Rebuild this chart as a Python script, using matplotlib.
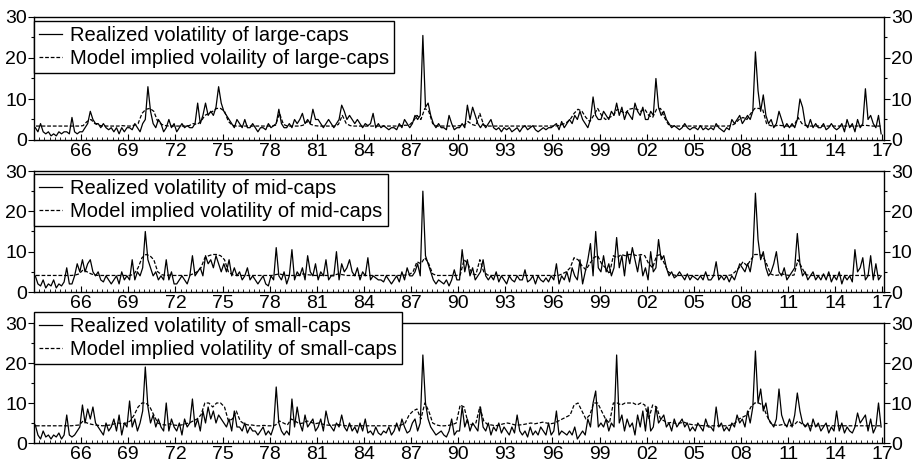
import matplotlib
matplotlib.use('Agg')
import matplotlib.pyplot as plt
import numpy as np
from matplotlib.ticker import FixedLocator, MultipleLocator

plt.rcParams['font.family'] = ['Liberation Sans', 'DejaVu Sans']

### Data
# Realized volatility, six readings per year, 1963 .. 2016
rv_large = [
    3, 2, 4, 2, 1.5, 2,        # 1963
    1, 1.5, 1, 2, 1.5, 2,      # 1964
    2, 1.5, 5.5, 2, 1.5, 2,    # 1965
    2, 3, 4, 7, 5, 4,          # 1966
    4, 3, 4, 3, 2.5, 3,        # 1967
    2, 3, 1.5, 3, 2, 3,        # 1968
    3, 2.5, 4, 3, 2, 4,        # 1969
    5, 13, 7, 4, 3, 5,         # 1970
    4, 2, 3, 5, 3, 4,          # 1971
    2, 3, 4, 3, 3.5, 3,        # 1972
    3, 4, 9, 4, 6, 9,          # 1973
    6, 7, 6, 8, 13, 9,         # 1974
    7, 6, 5, 4, 3, 5,          # 1975
    4, 3, 5, 3, 3, 4,          # 1976
    3, 2, 3, 3, 2.5, 4,        # 1977
    3, 3.5, 4, 7.5, 4, 3,      # 1978
    3, 4, 3, 5, 4, 5,          # 1979
    6.5, 4, 5, 4, 7.5, 5,      # 1980
    5, 4, 3, 4, 5, 4,          # 1981
    3, 4, 5, 8.5, 7, 5,        # 1982
    6, 5, 4, 5, 4, 3,          # 1983
    4, 3.5, 4, 6.5, 3, 4,      # 1984
    3, 3.5, 3, 2.5, 3, 3,      # 1985
    2.5, 4, 3, 5, 4, 3,        # 1986
    4, 6, 5, 6, 25.5, 8,       # 1987
    9, 6, 4, 3, 4, 3,          # 1988
    3, 2.5, 6, 4, 2.5, 3,      # 1989
    3, 4, 3, 8.5, 5, 8,        # 1990
    6, 4, 3, 4, 3, 4,          # 1991
    5, 3, 2.5, 3, 2, 3,        # 1992
    2.5, 3, 2, 2.5, 3, 2,      # 1993
    3, 3.5, 2.5, 3, 3.5, 2.5,  # 1994
    2, 2.5, 3, 2.5, 3, 3,      # 1995
    3.5, 4, 2.5, 4.5, 3, 4,    # 1996
    5, 4, 6, 5, 7, 5,          # 1997
    4, 3, 5, 10.5, 6, 5,       # 1998
    5, 7, 6, 5, 7, 6,          # 1999
    9, 6, 8, 5, 7, 6,          # 2000
    5, 9, 7, 6, 8, 5,          # 2001
    5, 7, 6, 15, 8, 6,         # 2002
    7, 5, 4, 3, 3.5, 3,        # 2003
    2.5, 3, 4, 3, 2.5, 3,      # 2004
    3, 2.5, 3.5, 2.5, 3, 2.5,  # 2005
    3, 2.5, 4, 3, 2.5, 2,      # 2006
    3, 2.5, 5, 4, 5, 6,        # 2007
    4, 5, 6, 5, 7, 21.5,       # 2008
    12, 7, 11, 6, 4, 5,        # 2009
    3, 4, 7, 5, 3, 4,          # 2010
    3, 4, 3, 5, 10, 8,         # 2011
    4, 3, 5, 3, 4, 3,          # 2012
    3, 4, 2.5, 3, 4, 3,        # 2013
    2.5, 3, 4, 2, 5, 3,        # 2014
    4, 2, 5, 3, 4, 12.5,       # 2015
    5, 6, 4, 3, 6, 1.5,        # 2016
]
rv_mid = [
    4, 2, 1.5, 3, 1, 2,        # 1963
    1.5, 3, 1, 2, 1.5, 2.5,    # 1964
    6, 2, 2, 4, 7, 5,          # 1965
    8, 5, 7, 8, 5, 4,          # 1966
    5, 3, 2.5, 4, 3, 2,        # 1967
    3, 4, 2, 5, 3, 4,          # 1968
    3, 8, 3, 5, 4, 6,          # 1969
    15, 8, 6, 4, 5, 3,         # 1970
    4, 3, 8, 3, 5, 2,          # 1971
    2, 3, 4, 3, 2, 4,          # 1972
    9, 4, 5, 6, 4, 9,          # 1973
    7, 8, 6, 9, 7, 5,          # 1974
    7, 5, 8, 4, 6, 4,          # 1975
    5, 3, 4, 6, 3, 4,          # 1976
    3, 2, 3, 4, 2, 1.5,        # 1977
    4, 3, 11, 4, 3, 5,         # 1978
    2, 4, 10.5, 3, 5, 4,       # 1979
    6, 3, 9, 5, 4, 7,          # 1980
    3, 5, 4, 8, 3, 4,          # 1981
    4, 10, 3, 7, 5, 6,         # 1982
    8, 5, 4, 6, 3, 5,          # 1983
    4, 8.5, 3, 4, 3.5, 3,      # 1984
    3, 2.5, 4, 3, 2, 3,        # 1985
    4, 2.5, 5, 3, 6, 4,        # 1986
    4, 5, 7, 4, 25, 9,         # 1987
    7, 5, 3, 2, 3, 2.5,        # 1988
    2, 3, 1.5, 3, 5.5, 3,      # 1989
    3, 10.5, 5, 8, 4, 6,       # 1990
    3, 4, 5, 8, 4, 3,          # 1991
    4, 3, 5, 2.5, 4, 3,        # 1992
    2, 4, 3, 2.5, 4, 3,        # 1993
    3, 5.5, 2.5, 3, 4, 2,      # 1994
    4, 3, 2.5, 3.5, 2.5, 4,    # 1995
    3, 7, 2, 4, 3, 5,          # 1996
    2.5, 6, 4, 3, 8, 2,        # 1997
    5, 8, 12, 4, 15, 6,        # 1998
    5, 9, 5, 7, 4, 6,          # 1999
    13.5, 6, 9, 4, 10, 7,      # 2000
    11, 8, 5, 9, 4, 6,         # 2001
    3, 10, 5, 6, 13, 8,        # 2002
    9, 6, 4, 5, 3.5, 4,        # 2003
    5, 4, 3, 4.5, 3, 4,        # 2004
    3.5, 3, 4, 3, 5, 3,        # 2005
    3, 4, 7.5, 3, 4, 3,        # 2006
    4, 2.5, 4, 3, 5, 7,        # 2007
    6, 5, 7, 5, 9, 24.5,       # 2008
    13, 8, 10, 6, 4, 5,        # 2009
    7, 10, 5, 4, 6, 3,         # 2010
    4, 5, 6, 14.5, 7, 4,       # 2011
    5, 3, 4, 5, 3, 4,          # 2012
    3, 4.5, 3, 5, 2.5, 4,      # 2013
    3, 5, 2, 4, 3, 4,          # 2014
    2.5, 10.5, 5, 6, 8.5, 3,   # 2015
    4, 9, 3, 7, 3, 4,          # 2016
]
rv_small = [
    4.5, 2, 1, 3, 1.5, 2,      # 1963
    1, 2, 1.5, 2.5, 1, 2,      # 1964
    7, 2, 1.5, 2, 3, 4,        # 1965
    9.5, 5, 8.5, 6, 9, 5,      # 1966
    4, 3, 2, 5, 3, 4,          # 1967
    6, 3, 7, 2, 5, 4,          # 1968
    10.5, 4, 6, 3, 5, 8,       # 1969
    19, 9, 5, 7, 4, 6,         # 1970
    4, 3, 10, 3, 6, 4,         # 1971
    3, 5, 2, 6, 4, 5,          # 1972
    11, 4, 6, 3, 8, 5,         # 1973
    9, 6, 8, 5, 7, 6,          # 1974
    5, 4, 6, 3, 8, 4,          # 1975
    4, 3, 5, 2.5, 4, 3,        # 1976
    3, 2, 3, 4, 2, 3,          # 1977
    2, 4, 14, 5, 3, 2,         # 1978
    3, 2, 11, 4, 9, 5,         # 1979
    3, 7, 4, 5, 6, 3,          # 1980
    4, 6, 3, 8, 5, 4,          # 1981
    3, 5, 4, 7, 4, 3,          # 1982
    5, 3, 4, 2.5, 5, 3,        # 1983
    6, 2.5, 3, 2, 4, 2.5,      # 1984
    2, 3, 2.5, 4, 2, 3,        # 1985
    5, 3, 6, 4, 2.5, 3,        # 1986
    5, 6, 3, 5, 22, 10,        # 1987
    6, 4, 3, 2, 2.5, 3,        # 1988
    2, 1.5, 3, 6, 2, 3,        # 1989
    3, 9, 4, 6, 3, 5,          # 1990
    4, 3, 9, 4, 3, 5,          # 1991
    2, 4, 3, 5, 2.5, 4,        # 1992
    3, 2, 4, 2.5, 7, 3,        # 1993
    2, 3, 1.5, 4, 2, 3,        # 1994
    2, 4, 3, 2, 5, 2,          # 1995
    3, 8, 2, 3, 2.5, 2,        # 1996
    3, 2, 4, 1, 2, 3,          # 1997
    2, 6, 4, 10, 13, 4,        # 1998
    5, 4, 6, 3, 5, 4,          # 1999
    22, 5, 7, 3, 6, 4,         # 2000
    5, 2, 7, 4, 8, 3,          # 2001
    9, 3, 4, 9, 5, 6,          # 2002
    7, 4, 5, 3, 6, 4,          # 2003
    5, 6, 4, 5, 3, 4,          # 2004
    3, 5, 4, 3, 6, 4,          # 2005
    4, 3, 9, 4, 5, 3,          # 2006
    4, 3, 5, 4, 7, 5,          # 2007
    6, 4, 8, 5, 9, 23,         # 2008
    10, 13.5, 8, 10, 6, 5,     # 2009
    4, 6, 13.5, 7, 5, 4,       # 2010
    6, 4, 7, 12.5, 8, 5,       # 2011
    4, 5, 3, 6, 4, 5,          # 2012
    3, 4, 5, 2.5, 4, 3,        # 2013
    8, 3, 5, 2.5, 4, 3,        # 2014
    2.5, 4, 7.5, 5, 6, 7,      # 2015
    3, 6, 2.5, 4, 10, 4,       # 2016
]

# Model implied volatility, four readings per year, 1963 .. 2016
mv_large = [
    3.4, 3.4, 3.4, 3.4,  3.4, 3.4, 3.4, 3.4,  3.4, 3.4, 3.4, 3.4,   # 63-65
    3.5, 4.5, 5.0, 4.0,  3.6, 3.4, 3.4, 3.4,  3.4, 3.4, 3.5, 3.4,   # 66-68
    3.4, 3.6, 4.0, 6.5,  7.5, 7.7, 7.0, 4.5,  3.8, 3.5, 3.4, 3.4,   # 69-71
    3.4, 3.4, 3.4, 3.5,  4.0, 3.8, 4.5, 6.0,  6.5, 7.0, 7.7, 7.7,   # 72-74
    7.0, 4.5, 3.6, 3.4,  3.4, 3.4, 3.4, 3.4,  3.4, 3.4, 3.4, 3.4,   # 75-77
    3.4, 3.6, 6.5, 3.8,  3.4, 3.4, 3.4, 3.4,  3.6, 4.5, 3.8, 3.5,   # 78-80
    3.4, 3.4, 3.4, 3.4,  3.4, 3.8, 6.0, 4.0,  3.5, 3.4, 3.4, 3.4,   # 81-83
    3.4, 3.4, 3.4, 3.4,  3.4, 3.4, 3.4, 3.4,  3.4, 3.5, 3.6, 3.6,   # 84-86
    4.5, 6.0, 5.0, 7.7,  7.0, 4.0, 3.4, 3.4,  3.4, 3.4, 3.4, 3.4,   # 87-89
    3.5, 3.6, 4.5, 3.8,  3.5, 6.5, 3.6, 3.4,  3.4, 3.4, 3.4, 3.4,   # 90-92
    3.4, 3.4, 3.4, 3.4,  3.4, 3.4, 3.4, 3.4,  3.4, 3.4, 3.4, 3.4,   # 93-95
    3.4, 3.5, 3.8, 4.2,  5.0, 6.5, 7.5, 7.0,  5.5, 4.5, 6.0, 7.7,   # 96-98
    6.0, 5.0, 5.5, 6.0,  7.5, 7.0, 6.5, 7.5,  7.7, 7.5, 7.0, 7.5,   # 99-01
    6.0, 5.5, 7.5, 7.7,  5.5, 3.8, 3.4, 3.4,  3.4, 3.4, 3.4, 3.4,   # 02-04
    3.4, 3.4, 3.4, 3.4,  3.4, 3.4, 3.4, 3.4,  3.4, 3.5, 4.0, 5.0,   # 05-07
    5.5, 5.0, 6.5, 7.7,  7.7, 7.5, 4.0, 3.5,  3.4, 3.6, 3.5, 3.4,   # 08-10
    3.4, 3.5, 5.5, 4.0,  3.5, 3.4, 3.4, 3.4,  3.4, 3.4, 3.4, 3.4,   # 11-13
    3.4, 3.4, 3.4, 3.4,  3.4, 3.4, 3.5, 3.6,  3.5, 3.4, 3.4, 3.4,   # 14-16
]
mv_mid = [
    4.1, 4.1, 4.1, 4.1,  4.1, 4.1, 4.1, 4.1,  4.1, 4.1, 4.2, 4.5,   # 63-65
    5.5, 5.0, 4.5, 4.2,  4.1, 4.1, 4.1, 4.1,  4.1, 4.1, 4.1, 4.1,   # 66-68
    4.1, 4.5, 6.0, 8.5,  9.3, 9.0, 8.0, 5.0,  4.3, 4.1, 4.2, 4.1,   # 69-71
    4.1, 4.1, 4.1, 4.1,  4.5, 5.0, 6.0, 8.5,  9.0, 9.3, 9.3, 9.0,   # 72-74
    8.0, 5.0, 4.3, 4.1,  4.1, 4.1, 4.1, 4.1,  4.1, 4.1, 4.1, 4.1,   # 75-77
    4.1, 4.3, 4.5, 4.2,  4.1, 4.1, 4.1, 4.1,  4.5, 4.3, 4.2, 4.1,   # 78-80
    4.1, 4.1, 4.1, 4.1,  4.2, 4.5, 4.3, 4.1,  4.1, 4.1, 4.1, 4.1,   # 81-83
    4.1, 4.1, 4.1, 4.1,  4.1, 4.1, 4.1, 4.1,  4.1, 4.1, 4.2, 4.3,   # 84-86
    5.0, 7.5, 7.0, 8.5,  7.0, 4.5, 4.1, 4.1,  4.1, 4.1, 4.1, 4.1,   # 87-89
    4.2, 8.0, 7.0, 4.5,  4.3, 8.0, 5.0, 4.2,  4.1, 4.1, 4.1, 4.1,   # 90-92
    4.1, 4.1, 4.1, 4.1,  4.1, 4.1, 4.1, 4.1,  4.1, 4.1, 4.1, 4.1,   # 93-95
    4.1, 4.1, 4.5, 5.0,  6.0, 8.5, 8.0, 6.5,  5.5, 7.0, 8.5, 9.0,   # 96-98
    7.0, 6.0, 4.5, 9.0,  8.5, 9.3, 9.0, 9.3,  9.3, 9.0, 9.3, 9.0,   # 99-01
    7.0, 6.0, 9.0, 9.3,  7.0, 5.0, 4.3, 4.1,  4.1, 4.1, 4.1, 4.1,   # 02-04
    4.1, 4.1, 4.1, 4.1,  4.1, 4.1, 4.1, 4.1,  4.1, 4.2, 5.0, 6.0,   # 05-07
    7.5, 6.5, 8.0, 9.3,  9.3, 9.0, 7.0, 4.5,  4.1, 4.2, 4.5, 4.2,   # 08-10
    4.1, 4.2, 8.0, 6.0,  4.3, 4.1, 4.1, 4.1,  4.1, 4.1, 4.1, 4.1,   # 11-13
    4.1, 4.1, 4.1, 4.1,  4.1, 4.1, 4.1, 4.1,  4.1, 4.1, 4.1, 4.1,   # 14-16
]
mv_small = [
    4.3, 4.3, 4.3, 4.3,  4.3, 4.3, 4.3, 4.3,  4.3, 4.3, 4.4, 4.5,   # 63-65
    5.5, 5.0, 4.7, 4.5,  4.4, 4.3, 4.4, 4.5,  4.8, 5.0, 4.8, 5.0,   # 66-68
    5.5, 7.0, 9.0, 10.0, 10.0, 9.0, 7.0, 5.0, 4.6, 4.5, 4.8, 4.5,   # 69-71
    4.4, 4.5, 4.8, 5.0,  5.5, 6.0, 7.0, 10.0, 10.0, 9.0, 10.0, 10.0, # 72-74
    9.0, 5.5, 6.0, 8.0,  5.5, 4.8, 4.5, 4.5,  4.3, 4.3, 4.4, 4.3,   # 75-77
    4.3, 4.5, 5.5, 5.0,  4.5, 6.0, 5.5, 4.8,  5.0, 5.5, 5.2, 4.8,   # 78-80
    5.0, 4.7, 4.5, 4.4,  4.5, 4.6, 4.4, 4.3,  4.3, 4.3, 4.3, 4.3,   # 81-83
    4.3, 4.3, 4.3, 4.3,  4.3, 4.3, 4.3, 4.3,  4.3, 4.5, 5.0, 7.0,   # 84-86
    8.0, 8.5, 6.0, 10.0, 8.0, 5.0, 4.5, 4.3,  4.3, 4.4, 4.6, 5.0,   # 87-89
    9.5, 9.0, 5.0, 4.5,  5.0, 9.0, 5.5, 4.6,  4.5, 4.3, 4.5, 4.8,   # 90-92
    5.0, 4.8, 4.5, 4.5,  4.6, 4.8, 5.0, 4.8,  5.0, 5.2, 5.0, 4.8,   # 93-95
    5.0, 5.5, 6.0, 6.5,  7.0, 9.5, 10.0, 8.0, 6.0, 7.0, 10.0, 10.0, # 96-98
    8.0, 6.0, 5.0, 10.0, 10.0, 9.5, 10.0, 10.0, 10.0, 9.5, 10.0, 9.5, # 99-01
    6.0, 9.5, 9.0, 6.0,  5.5, 5.0, 5.2, 4.8,  5.0, 5.2, 4.8, 4.6,   # 02-04
    4.5, 4.4, 4.3, 4.3,  4.3, 4.3, 4.3, 4.3,  4.3, 4.5, 5.0, 6.0,   # 05-07
    6.5, 7.0, 9.0, 10.0, 10.0, 9.5, 7.0, 5.0, 4.5, 4.4, 4.6, 4.4,   # 08-10
    4.3, 4.5, 5.5, 4.8,  4.3, 4.3, 4.3, 4.3,  4.3, 4.3, 4.3, 4.3,   # 11-13
    4.3, 4.3, 4.3, 4.3,  4.3, 4.3, 4.3, 4.3,  4.3, 4.3, 4.3, 4.3,   # 14-16
]

labels_rv = ['Realized volatility of large-caps',
             'Realized volatility of mid-caps',
             'Realized volatility of small-caps']
labels_mv = ['Model implied volaility of large-caps',
             'Model implied volatility of mid-caps',
             'Model implied volatility of small-caps']
year_ticks = list(range(1966, 2018, 3))
year_labels = ['%02d' % (y % 100) for y in year_ticks]

### Layout (pixel boxes of the three panels, and where each legend top sits)
W, H = 916, 469
boxes = [(17, 140), (171, 292), (323, 443)]
legend_tops = [21, 174, 312]
x_left, x_right = 34, 884

fig = plt.figure(figsize=(W / 100, H / 100), dpi=100)

series = [(rv_large, mv_large), (rv_mid, mv_mid), (rv_small, mv_small)]
for i, ((rv, mv), (top, bot)) in enumerate(zip(series, boxes)):
    ax = fig.add_axes([x_left / W, 1 - bot / H, (x_right - x_left) / W, (bot - top) / H])
    x_rv = 1963 + (np.arange(len(rv)) + 0.5) / 6.0
    x_mv = 1963 + (np.arange(len(mv)) + 0.5) / 4.0
    l1, = ax.plot(x_rv, rv, color='black', lw=0.9)
    l2, = ax.plot(x_mv, mv, color='black', lw=0.9, ls=(0, (3, 1.5)))

    ax.set_xlim(1963.0, 2017.1)
    ax.set_ylim(0, 30)
    ax.xaxis.set_major_locator(FixedLocator(year_ticks))
    ax.set_xticklabels(year_labels)
    ax.xaxis.set_minor_locator(MultipleLocator(1.0 / 3.0))
    ax.set_yticks([0, 10, 20, 30])
    ax.yaxis.set_minor_locator(MultipleLocator(5))

    ax.tick_params(axis='x', which='major', direction='in', length=4, width=0.8,
                   labelsize=14, pad=2)
    ax.tick_params(axis='x', which='minor', direction='in', length=2, width=0.6)
    ax.tick_params(axis='y', which='both', left=True, right=True,
                   labelleft=True, labelright=True, direction='out', width=0.8)
    ax.tick_params(axis='y', which='major', length=4, labelsize=14, pad=1)
    ax.tick_params(axis='y', which='minor', length=2)
    for s in ax.spines.values():
        s.set_linewidth(1.0)

    anchor_y = 1 + (top - legend_tops[i]) / (bot - top)
    leg = ax.legend([l1, l2], [labels_rv[i], labels_mv[i]], loc='upper left',
                    bbox_to_anchor=(0, anchor_y), borderaxespad=0, fontsize=14.5,
                    fancybox=False, framealpha=1, edgecolor='black',
                    handlelength=1.15, handletextpad=0.4, borderpad=0.25,
                    labelspacing=0.2)
    leg.get_frame().set_linewidth(1.0)

plt.savefig('out.png', dpi=100)
